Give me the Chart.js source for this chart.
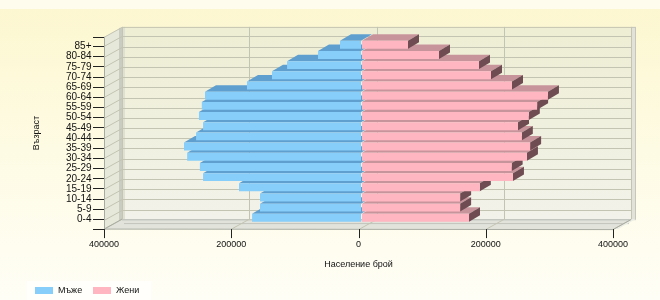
<!DOCTYPE html>
<html><head><meta charset="utf-8">
<script src="https://cdn.jsdelivr.net/npm/chart.js@4.4.0/dist/chart.umd.min.js"></script>
<style>html,body{margin:0;padding:0;background:#fffef6;}canvas{display:block;}</style>
</head><body>
<canvas id="c" width="660" height="300"></canvas>
<script>
const categories = ['0-4','5-9','10-14','15-19','20-24','25-29','30-34','35-39','40-44','45-49','50-54','55-59','60-64','65-69','70-74','75-79','80-84','85+'];
const maleValues = [172000,159500,159500,192500,249000,254000,274000,279000,260000,249000,255500,251000,246000,180000,140700,117000,68400,33800];
const femaleValues = [169000,155000,155000,186000,238000,236000,260000,265000,252000,246000,263000,276000,293000,236500,203500,184700,121800,73100];
const xTickValues = [-400000,-200000,0,200000,400000];
const seriesNames = ['Мъже','Жени'];
const xTitle = 'Население брой';
const yTitle = 'Възраст';

const COL = {
  maleFront:'#87cefa', maleTop:'#5f9fcf', maleSide:'#4a7fa8',
  femFront:'#ffb6c1', femTop:'#c8949c', femSide:'#6e4c52'
};
const WALL = {x:18, y:-10};
const BAR_SHIFT = {x:3, y:-1.7};
const BAR_DEPTH = {x:11, y:-6.5};
const FRAME_PAD = 4.5;

function poly(ctx, pts, fill, stroke){
  ctx.beginPath();
  ctx.moveTo(pts[0][0], pts[0][1]);
  for (let i=1;i<pts.length;i++) ctx.lineTo(pts[i][0], pts[i][1]);
  ctx.closePath();
  if (fill){ctx.fillStyle = fill; ctx.fill();}
  if (stroke){ctx.strokeStyle = stroke; ctx.lineWidth = 1; ctx.stroke();}
}

const plugin3d = {
  id:'p3d',
  beforeDraw(chart){
    const {ctx, chartArea:a, width, height} = chart;
    const xs = chart.scales.x, ys = chart.scales.y;
    ctx.save();
    // page background
    const bg = ctx.createLinearGradient(0,0,0,height);
    bg.addColorStop(0,'#fcf7cf');
    bg.addColorStop(0.5,'#fefbe4');
    bg.addColorStop(1,'#fffef6');
    ctx.fillStyle = bg; ctx.fillRect(0,0,width,height);
    ctx.fillStyle = 'rgba(255,255,250,0.7)'; ctx.fillRect(0,0,width,9);

    const top = a.top - FRAME_PAD, bot = a.bottom + FRAME_PAD, L = a.left, R = a.right;
    const bL = L + WALL.x, bR = R + WALL.x, bT = top + WALL.y, bB = bot + WALL.y;
    // back wall
    const wg = ctx.createLinearGradient(0,bT,0,bB);
    wg.addColorStop(0,'#eeeed4'); wg.addColorStop(1,'#f2f2ea');
    ctx.fillStyle = wg; ctx.fillRect(bL,bT,bR-bL,bB-bT);
    // right thickness strip
    ctx.fillStyle = '#e2e2d8'; ctx.fillRect(bR, bT, 5, bB-bT+1);
    ctx.strokeStyle = '#c6c6bc'; ctx.lineWidth = 1;
    ctx.strokeRect(bR+0.5, bT+0.5, 4, bB-bT);
    // left wall
    poly(ctx, [[L,top],[bL,bT],[bL,bB],[L,bot]], '#e6e8da', null);
    ctx.fillStyle = '#c9ccc0'; ctx.fillRect(bL-3, bT+1, 3, bB-bT);
    ctx.fillStyle = '#dfe0d2'; ctx.fillRect(bL, bT, 3, bB-bT);
    // floor
    poly(ctx, [[L,bot],[bL,bB],[bR,bB],[R,bot]], '#e2e4dc', null);
    ctx.fillStyle = '#d6d8d0'; ctx.fillRect(bL, bB, bR-bL, 2);
    ctx.strokeStyle = '#c2c4bc';
    ctx.beginPath(); ctx.moveTo(bL+2, bB+4.5); ctx.lineTo(bR-2, bB+4.5); ctx.stroke();
    ctx.beginPath(); ctx.moveTo(bL, bB+0.5); ctx.lineTo(bR, bB+0.5); ctx.stroke();
    // floor right side
    poly(ctx, [[R,bot],[bR,bB],[bR+5,bB],[R+5,bot]], '#eceee6', null);

    // grid lines
    ctx.strokeStyle = '#c4c4b2'; ctx.lineWidth = 1;
    for (let i=0;i<categories.length;i++){
      const py = Math.round(ys.getPixelForValue(i)) + 0.5;
      ctx.beginPath();
      ctx.moveTo(L, py); ctx.lineTo(bL, py + WALL.y); ctx.lineTo(bR, py + WALL.y);
      ctx.stroke();
    }
    ctx.beginPath(); ctx.moveTo(L, top+0.5); ctx.lineTo(bL, bT+0.5); ctx.lineTo(bR, bT+0.5); ctx.stroke();
    xTickValues.forEach(v=>{
      const px = Math.round(xs.getPixelForValue(v)) + 0.5;
      ctx.beginPath();
      ctx.moveTo(px, bot); ctx.lineTo(px + WALL.x, bB);
      ctx.lineTo(px + WALL.x, bT);
      ctx.stroke();
    });
    // front edges of frame
    ctx.strokeStyle = '#a8aca2';
    ctx.beginPath(); ctx.moveTo(L+0.5, top); ctx.lineTo(L+0.5, bot); ctx.lineTo(R, bot+0.5); ctx.lineTo(bR, bB+0.5); ctx.stroke();
    ctx.beginPath(); ctx.moveTo(L, bot); ctx.lineTo(bL, bB); ctx.stroke();
    // axis ticks (front)
    ctx.strokeStyle = '#222';
    xTickValues.forEach(v=>{
      const px = Math.round(xs.getPixelForValue(v)) + 0.5;
      ctx.beginPath(); ctx.moveTo(px, bot); ctx.lineTo(px, bot+9); ctx.stroke();
    });
    [top, bot].forEach(y=>{
      ctx.beginPath(); ctx.moveTo(L-11, Math.round(y)+0.5); ctx.lineTo(L, Math.round(y)+0.5); ctx.stroke();
    });
    ctx.restore();
  },
  beforeDatasetsDraw(chart){
    const ctx = chart.ctx;
    ctx.save();
    ctx.translate(BAR_SHIFT.x, BAR_SHIFT.y);
    const m0 = chart.getDatasetMeta(0).data, m1 = chart.getDatasetMeta(1).data;
    const dx = BAR_DEPTH.x, dy = BAR_DEPTH.y;
    for (let i=0;i<m0.length;i++){
      [[m0[i], COL.maleTop, COL.maleSide, false],[m1[i], COL.femTop, COL.femSide, true]].forEach(([el, topC, sideC, side])=>{
        const p = el.getProps(['x','y','base','height'], true);
        const y1 = p.y - p.height/2, y2 = p.y + p.height/2;
        const xL = Math.min(p.x, p.base), xR = Math.max(p.x, p.base);
        poly(ctx, [[xL,y1],[xL+dx,y1+dy],[xR+dx,y1+dy],[xR,y1]], topC, null);
        if (side) poly(ctx, [[xR,y1],[xR+dx,y1+dy],[xR+dx,y2+dy],[xR,y2]], sideC, null);
      });
    }
  },
  afterDatasetsDraw(chart){
    chart.ctx.restore();
  },
  afterDraw(chart){
    const ctx = chart.ctx;
    ctx.save();
    ctx.fillStyle = 'rgba(255,255,252,0.85)';
    ctx.fillRect(27, 281, 124, 19);
    ctx.font = '9px "Liberation Sans"';
    ctx.textBaseline = 'middle';
    ctx.fillStyle = '#111';
    const items = chart.data.datasets;
    const xs = [35, 93];
    items.forEach((ds, i)=>{
      ctx.fillStyle = ds.backgroundColor;
      ctx.fillRect(xs[i], 287, 18, 7);
      ctx.fillStyle = '#111';
      ctx.fillText(ds.label, xs[i] + 23, 291);
    });
    ctx.restore();
  }
};

Chart.defaults.font.family = '"Liberation Sans", Arial, sans-serif';
Chart.defaults.color = '#111';

new Chart(document.getElementById('c'), {
  type:'bar',
  data:{
    labels: categories,
    datasets:[
      {label: seriesNames[0], data: maleValues.map(v=>-v), backgroundColor: COL.maleFront, borderWidth:0, clip:false},
      {label: seriesNames[1], data: femaleValues, backgroundColor: COL.femFront, borderWidth:0, clip:false}
    ]
  },
  options:{
    indexAxis:'y',
    responsive:false,
    animation:false,
    events:[],
    layout:{padding:{left:0,right:47,top:41.4,bottom:0}},
    datasets:{bar:{categoryPercentage:1, barPercentage:0.78}},
    plugins:{legend:{display:false}, tooltip:{enabled:false}},
    scales:{
      x:{
        stacked:true, min:-400000, max:400000,
        afterBuildTicks: s => { s.ticks = xTickValues.map(v=>({value:v})); },
        afterFit: s => { s.height = 75.4; },
        grid:{drawOnChartArea:false, drawTicks:true, tickLength:12, tickColor:'rgba(0,0,0,0)'},
        border:{display:false},
        ticks:{padding:3, font:{size:9}, color:'#111', maxRotation:0, callback: v => String(Math.abs(v))},
        title:{display:true, text:xTitle, font:{size:9}, color:'#111', padding:{top:0,bottom:30}}
      },
      y:{
        stacked:true, reverse:true,
        afterFit: s => { s.width = 104; },
        grid:{offset:false, drawOnChartArea:false, tickLength:11, tickColor:'#222'},
        border:{display:false},
        ticks:{padding:1.5, font:{size:10}, color:'#111', autoSkip:false},
        title:{display:true, text:yTitle, font:{size:9}, color:'#111', padding:{top:31.6,bottom:0}}
      }
    }
  },
  plugins:[plugin3d]
});
</script>
</body></html>
